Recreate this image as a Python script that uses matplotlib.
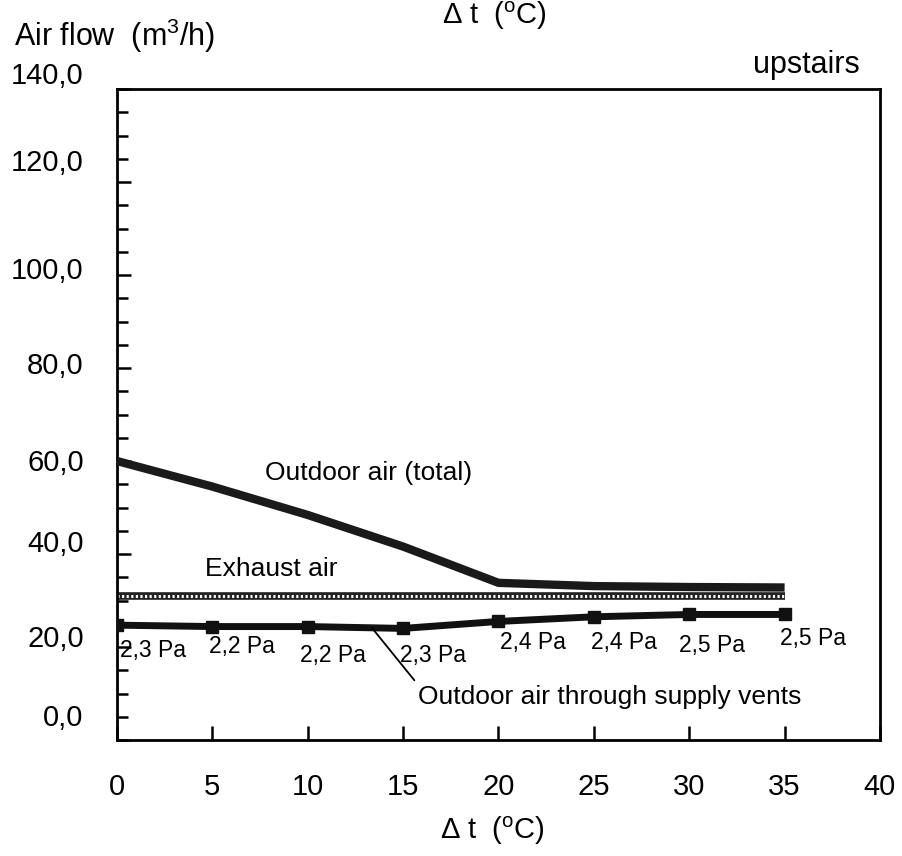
import matplotlib
matplotlib.use("Agg")
import matplotlib.pyplot as plt
from matplotlib.ticker import MultipleLocator
from matplotlib.transforms import ScaledTranslation

plt.rcParams["font.family"] = ["Liberation Sans", "DejaVu Sans"]
plt.rcParams["mathtext.fontset"] = "custom"
plt.rcParams["mathtext.rm"] = "Liberation Sans"
plt.rcParams["mathtext.it"] = "Liberation Sans:italic"

# data
dt = [0, 5, 10, 15, 20, 25, 30, 35]
outdoor_total = [60.0, 54.5, 48.4, 41.6, 33.8, 33.1, 32.9, 32.8]
exhaust = [31.0, 31.0, 31.0, 31.0, 31.0, 31.0, 31.0, 31.0]
supply_vents = [24.7, 24.4, 24.4, 24.0, 25.5, 26.5, 27.0, 27.0]
pressure = ["2,3 Pa", "2,2 Pa", "2,2 Pa", "2,3 Pa", "2,4 Pa", "2,4 Pa", "2,5 Pa", "2,5 Pa"]
# placement of each pressure label relative to its marker (px)
label_dx = [3, -3, -8, -3, 2, -3, -10, -5]
label_dy = [25, 20, 29, 27, 21, 26, 31, 24]
# vertical shifts of the y tick labels as printed, from 140 down to 0 (px, up)
ylab_shift = [16, 22, 7, 5, 1, 13, 11, 25]

fig = plt.figure(figsize=(9.02, 8.56), dpi=100)
ax = fig.add_axes([0.1297, 0.1355, 0.8459, 0.7605])

# outdoor air (total)
ax.plot(dt, outdoor_total, color="#1a1a1a", lw=6, solid_capstyle="butt", zorder=3)

# exhaust air - chain looking line
ax.plot(dt, exhaust, color="#222222", lw=5.5, solid_capstyle="butt", zorder=2)
ax.plot(dt, exhaust, color="white", lw=2.2, linestyle=(0, (0.7, 0.8)), zorder=2.5)

# outdoor air through supply vents
ax.plot(dt, supply_vents, color="#111111", lw=5, marker="s", markersize=9,
        solid_capstyle="butt", zorder=3)

for x, y, lab, dx, dy in zip(dt, supply_vents, pressure, label_dx, label_dy):
    ax.annotate(lab, (x, y), xytext=(dx, -dy), textcoords="offset pixels",
                ha="left", va="center", fontsize=16.5)

ax.text(7.75, 57.4, "Outdoor air (total)", fontsize=19, ha="left", va="center")
ax.text(4.6, 36.8, "Exhaust air", fontsize=19, ha="left", va="center")
ax.annotate("Outdoor air through supply vents", xy=(13.37, 24.1), xytext=(15.8, 9.2),
            fontsize=19, ha="left", va="center",
            arrowprops=dict(arrowstyle="-", color="black", lw=1.3,
                            shrinkA=2, shrinkB=0, relpos=(0, 1)))

ax.set_xlim(0, 40)
ax.set_ylim(0, 140)
ax.xaxis.set_major_locator(MultipleLocator(5))
ax.yaxis.set_major_locator(MultipleLocator(20))
ax.yaxis.set_minor_locator(MultipleLocator(5))
yt = [v for v in ax.get_yticks() if 0 <= v <= 140]
ax.set_yticks(yt)
ax.set_yticklabels([f"{v:.1f}".replace(".", ",") for v in yt])

ax.tick_params(axis="both", which="major", direction="in", length=10, width=1.8,
               labelsize=21)
ax.tick_params(axis="x", pad=24)
ax.tick_params(axis="y", pad=24)
ax.tick_params(axis="y", which="minor", direction="in", length=8, width=1.8)
ax.tick_params(top=False, right=False)
for s in ax.spines.values():
    s.set_linewidth(2)

# nudge the y labels up like in the printed chart
for v, lab in zip(yt, ax.get_yticklabels()):
    d = ylab_shift[int(round((140 - v) / 20))]
    lab.set_transform(lab.get_transform() + ScaledTranslation(0, d / 100, fig.dpi_scale_trans))

fig.text(0.015, 0.958, "Air flow  (m$^3$/h)", fontsize=22, ha="left", va="center")
fig.text(0.548, 0.982, "Δ t  ($^{\\rm o}$C)", fontsize=21, ha="center", va="center")
fig.text(0.546, 0.030, "Δ t  ($^{\\rm o}$C)", fontsize=21, ha="center", va="center")
fig.text(0.953, 0.924, "upstairs", fontsize=22, ha="right", va="center")

fig.savefig("out.png", dpi=100)
